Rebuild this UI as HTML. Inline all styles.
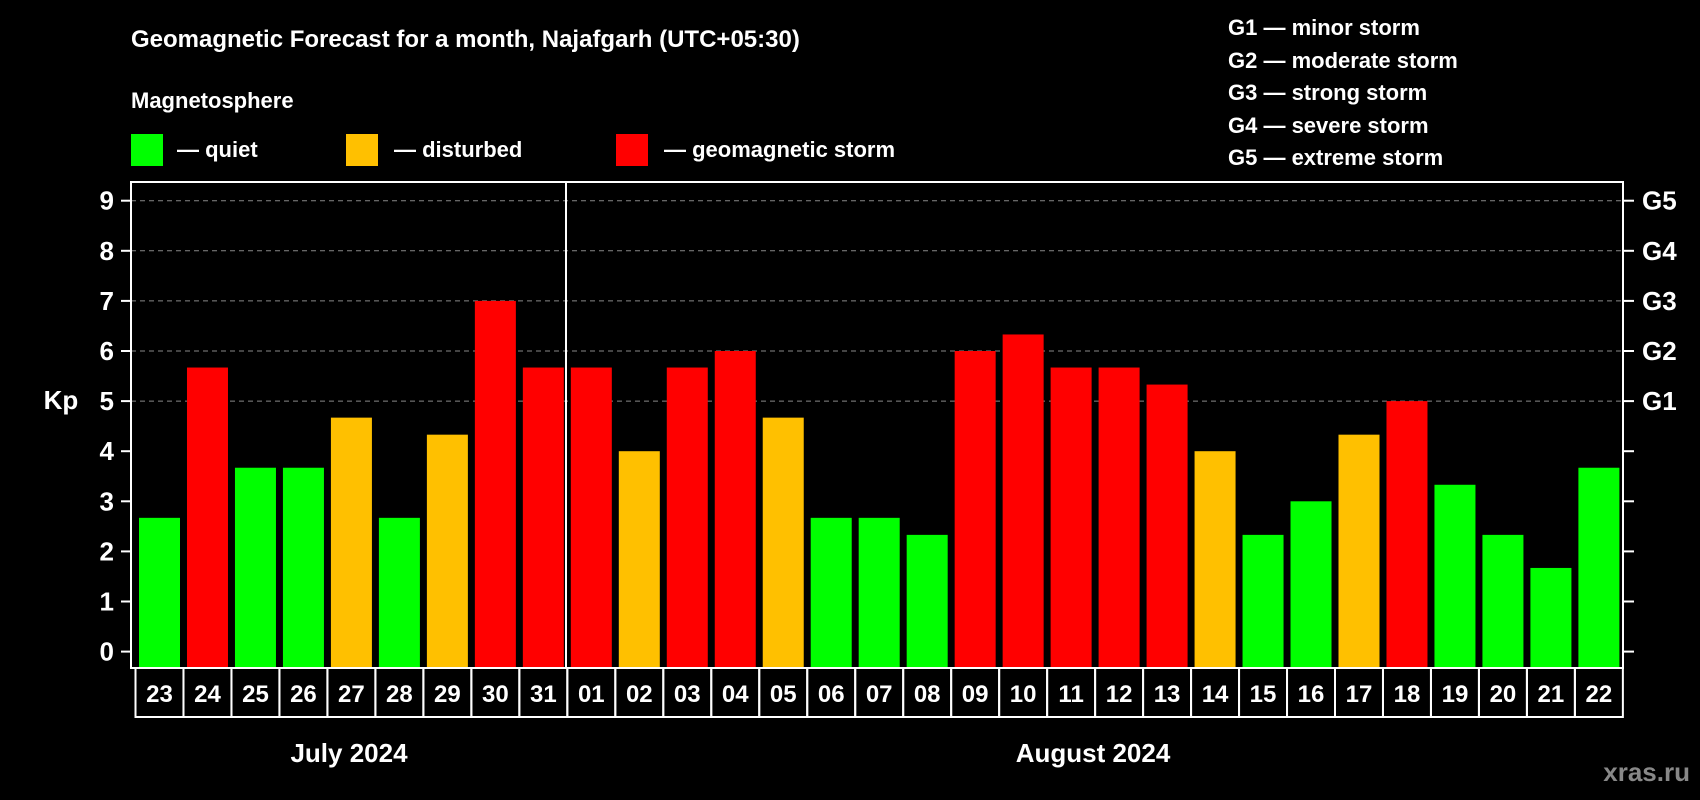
<!DOCTYPE html>
<html><head><meta charset="utf-8"><style>
html,body{margin:0;padding:0;background:#000;width:1700px;height:800px;overflow:hidden}
svg{display:block;font-family:"Liberation Sans",sans-serif;font-weight:bold}
</style></head><body>
<svg id="chart" width="1700" height="800" viewBox="0 0 1700 800">
<text x="131" y="47" fill="#fff" font-size="24">Geomagnetic Forecast for a month, Najafgarh (UTC+05:30)</text>
<text x="131" y="108" fill="#fff" font-size="22">Magnetosphere</text>
<rect x="131" y="134" width="32" height="32" fill="#00ff00"/>
<text x="177" y="157" fill="#fff" font-size="22">— quiet</text>
<rect x="346" y="134" width="32" height="32" fill="#ffc000"/>
<text x="394" y="157" fill="#fff" font-size="22">— disturbed</text>
<rect x="616" y="134" width="32" height="32" fill="#ff0000"/>
<text x="664" y="157" fill="#fff" font-size="22">— geomagnetic storm</text>
<g fill="#fff" font-size="22">
<text x="1228" y="35">G1 — minor storm</text>
<text x="1228" y="68">G2 — moderate storm</text>
<text x="1228" y="100">G3 — strong storm</text>
<text x="1228" y="133">G4 — severe storm</text>
<text x="1228" y="165">G5 — extreme storm</text>
</g>
<g id="grid"></g>
<g id="bars"></g>
<rect x="131" y="182" width="1492" height="486" fill="none" stroke="#fff" stroke-width="2"/>
<line x1="566" y1="182" x2="566" y2="668" stroke="#fff" stroke-width="2"/>
<g id="axes"></g>
<g id="days"></g>
<text x="61" y="409" fill="#fff" font-size="26" text-anchor="middle">Kp</text>
<text x="349" y="762" fill="#fff" font-size="26" text-anchor="middle">July 2024</text>
<text x="1093" y="762" fill="#fff" font-size="26" text-anchor="middle">August 2024</text>
<text x="1690" y="781" fill="#888" font-size="26" text-anchor="end">xras.ru</text>
</svg>
<script>
const days=["23","24","25","26","27","28","29","30","31","01","02","03","04","05","06","07","08","09","10","11","12","13","14","15","16","17","18","19","20","21","22"];
const kp=[2.67,5.67,3.67,3.67,4.67,2.67,4.33,7,5.67,5.67,4,5.67,6,4.67,2.67,2.67,2.33,6,6.33,5.67,5.67,5.33,4,2.33,3,4.33,5,3.33,2.33,1.67,3.67];
const yTicks=["0","1","2","3","4","5","6","7","8","9"];
const gLabels=["G1","G2","G3","G4","G5"];
const NS="http://www.w3.org/2000/svg";
const y=v=>651.6-v*50.1;
const x0=135.5,pitch=47.98;
function mk(t,a,p){const e=document.createElementNS(NS,t);for(const k in a)e.setAttribute(k,a[k]);document.getElementById(p).appendChild(e);return e;}
yTicks.forEach((t,i)=>{const v=+t;
 if(v>=5){const g=mk("line",{x1:131,x2:1623,y1:y(v),y2:y(v),stroke:"#888","stroke-dasharray":"5,4","stroke-width":1},"grid");
 
 }
 const tk=mk("line",{x1:121,x2:131,y1:y(v),y2:y(v),stroke:"#fff","stroke-width":2},"axes");
 
 
 const rt=mk("line",{x1:1623,x2:1634,y1:y(v),y2:y(v),stroke:"#fff","stroke-width":2},"axes");
 
 
 const tl=mk("text",{x:114,y:y(v)+9,fill:"#fff","font-size":26,"text-anchor":"end"},"axes");tl.textContent=t;
 
 
});
gLabels.forEach((g,i)=>{const t=mk("text",{x:1642,y:y(5+i)+9,fill:"#fff","font-size":26},"axes");t.textContent=g;
 
 });
days.forEach((d,i)=>{const v=kp[i];const c=v<4?"#00ff00":(v<5?"#ffc000":"#ff0000");
 const bx=x0+pitch*i;
 const b=mk("rect",{x:bx+3.5,y:y(v),width:41,height:668-y(v),fill:c},"bars");
 
 
 const r=mk("rect",{x:bx,y:668,width:pitch,height:49,fill:"none",stroke:"#fff","stroke-width":2},"days");
 
 
 const t=mk("text",{x:bx+pitch/2,y:702,fill:"#fff","font-size":24,"text-anchor":"middle"},"days");t.textContent=d;
 
 
});
</script>
</body></html>
